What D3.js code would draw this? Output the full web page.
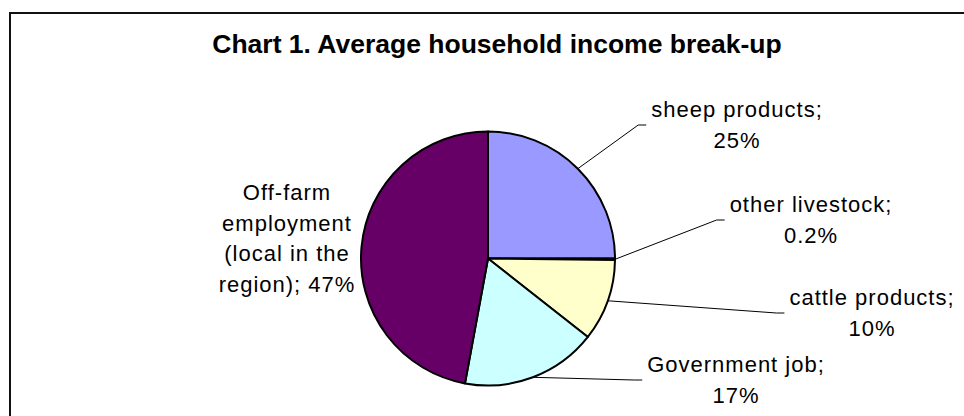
<!DOCTYPE html>
<html>
<head>
<meta charset="utf-8">
<script src="https://cdn.jsdelivr.net/npm/d3@7"></script>
<style>
  body { margin: 0; background: #fff; }
  svg { display: block; font-family: "Liberation Sans", Arial, sans-serif; }
</style>
</head>
<body>
<svg width="964" height="416"></svg>
<script>
// Data
const categories = ["sheep products", "other livestock", "cattle products", "Government job", "Off-farm employment (local in the region)"];
const values = [25, 0.2, 10.4, 17.3, 47.1];
const labelLines = [
  ["sheep  products;"],
  ["other livestock;"],
  ["cattle products;"],
  ["Government job;"],
  ["Off-farm", "employment", "(local in the", "region);"]
];
const colors = ["#9999FF", "#993366", "#FFFFCC", "#CCFFFF", "#660066"];
const title = "Chart 1. Average household income break-up";

// label placement (text centre x, first baseline y), like the hand-placed labels in the original
const labelAnchors = [[737, 117], [811, 212], [872, 305], [736, 372], [287, 200]];

const svg = d3.select("svg");
const width = +svg.attr("width");
const height = +svg.attr("height");

// frame (runs off the right and bottom edge)
svg.append("rect")
  .attr("x", 10).attr("y", 13)
  .attr("width", width + 50).attr("height", height + 50)
  .attr("fill", "none")
  .attr("stroke", "#111")
  .attr("stroke-width", 2);

svg.append("text")
  .attr("x", 497).attr("y", 53)
  .attr("text-anchor", "middle")
  .attr("font-size", "26.5px")
  .attr("font-weight", "bold")
  .text(title);

const cx = 488, cy = 258.5, radius = 127;

const pie = d3.pie().sort(null).value(d => d);
const arcs = pie(values);
const arc = d3.arc().innerRadius(0).outerRadius(radius);
const edge = d3.arc().innerRadius(radius).outerRadius(radius);

const g = svg.append("g").attr("transform", `translate(${cx},${cy})`);

g.selectAll("path")
  .data(arcs)
  .enter()
  .append("path")
  .attr("d", arc)
  .attr("fill", (d, i) => colors[i])
  .attr("stroke", "#000")
  .attr("stroke-width", 2)
  .attr("stroke-linejoin", "round");

const fmt = v => (v < 1 ? d3.format(".1f")(v) : d3.format(".0f")(v)) + "%";

const labels = svg.append("g")
  .attr("font-size", "22px")
  .attr("letter-spacing", "1px")
  .attr("fill", "#000");

arcs.forEach((a, i) => {
  const lines = labelLines[i].slice();
  const pct = fmt(values[i]);
  if (lines.length > 1) lines[lines.length - 1] += " " + pct;
  else lines.push(pct);

  const [lx, ly] = labelAnchors[i];
  const t = labels.append("text").attr("text-anchor", "middle");
  lines.forEach((s, k) => {
    t.append("tspan").attr("x", lx).attr("y", ly + k * 30.5).text(s);
  });

  // leader line for labels on the right
  if (i < 4) {
    const w = t.select("tspan").node().getComputedTextLength();
    const ex = lx - w / 2 - 5;
    const ey = ly + 8;
    const c = edge.centroid(a);
    const sx = cx + c[0], sy = cy + c[1];
    svg.append("polyline")
      .attr("points", [[sx, sy], [ex - 8, ey], [ex, ey]].map(p => p.join(",")).join(" "))
      .attr("fill", "none")
      .attr("stroke", "#000")
      .attr("stroke-width", 1);
  }
});
</script>
</body>
</html>
